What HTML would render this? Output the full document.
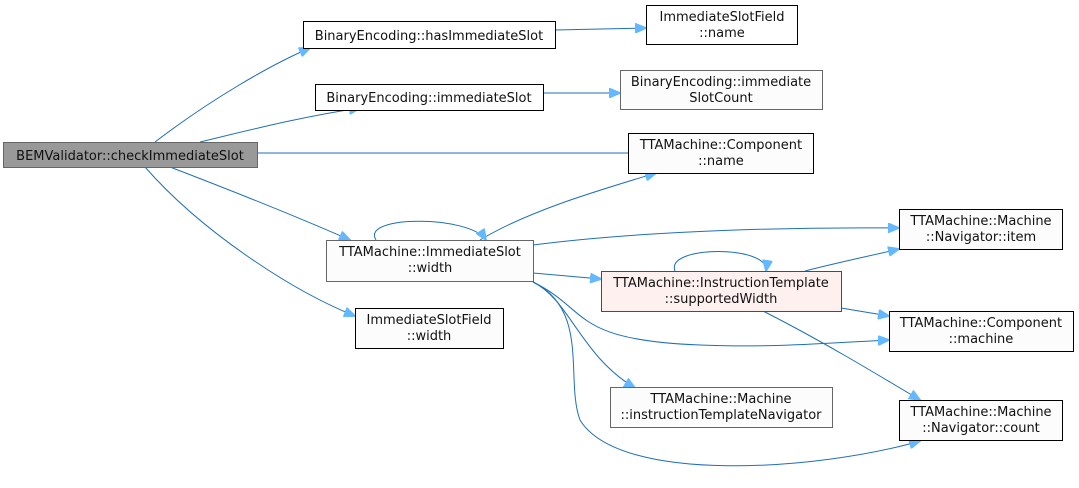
<!DOCTYPE html>
<html><head><meta charset="utf-8"><style>
html,body{margin:0;padding:0;background:#fff;}
svg text{font-family:"DejaVu Sans","Liberation Sans",sans-serif;font-size:13px;fill:#111;}
</style></head><body>
<svg width="1079" height="483" viewBox="0 0 1079 483" xmlns="http://www.w3.org/2000/svg">
<defs>
<marker id="a" markerWidth="12" markerHeight="10" refX="11" refY="5" orient="auto" markerUnits="userSpaceOnUse">
<path d="M0,0 L12,5 L0,10 Z" fill="#63b8ff" stroke="#63b8ff"/>
</marker>
</defs>
<g fill="none" stroke="#1f6fb8" stroke-width="1" marker-end="url(#a)">
<path d="M155,142 C210,100 270,65 310,48"/>
<path d="M200,142 C250,130 300,117 360,108"/>
<path d="M257,153 L639,153"/>
<path d="M170,167 C230,190 300,218 350,240"/>
<path d="M145,167 C200,230 290,290 355,316"/>
<path d="M555,30 L646,28"/>
<path d="M543,93 L620,93"/>
<path d="M480,240 C530,210 600,190 656,173"/>
<path d="M376,240 C360,215 470,215 486,240"/>
<path d="M533,245 C650,230 800,227 899,228"/>
<path d="M533,273 L601,279"/>
<path d="M533,282 C590,310 570,340 700,345 C770,348 830,343 889,340"/>
<path d="M533,282 C570,300 580,355 635,388"/>
<path d="M533,282 C590,310 565,380 580,420 C620,485 820,470 920,441"/>
<path d="M675,271 C665,245 770,245 766,271"/>
<path d="M805,271 C840,262 865,257 899,249"/>
<path d="M841,308 L889,316"/>
<path d="M763,311 C820,340 870,370 920,400"/>
</g>
<g stroke-width="1">
<rect x="3.5" y="142.5" width="254" height="25" fill="#999999" stroke="#666"/>
<rect x="303.5" y="21.5" width="252" height="27" fill="#fff" stroke="#000"/>
<rect x="646.5" y="5.5" width="151" height="39" fill="#fff" stroke="#000"/>
<rect x="315.5" y="84.5" width="228" height="26" fill="#fff" stroke="#000"/>
<rect x="620.5" y="70.5" width="202" height="39" fill="#fbfcfb" stroke="#666"/>
<rect x="628.5" y="133.5" width="185" height="40" fill="#fbfcfb" stroke="#000"/>
<rect x="326.5" y="240.5" width="207" height="41" fill="#fbfcfb" stroke="#666"/>
<rect x="355.5" y="308.5" width="148" height="40" fill="#fbfcfb" stroke="#000"/>
<rect x="601.5" y="271.5" width="240" height="40" fill="#fff0f0" stroke="#ff0000"/>
<rect x="899.5" y="209.5" width="163" height="40" fill="#fbfcfb" stroke="#000"/>
<rect x="889.5" y="311.5" width="184" height="40" fill="#fbfcfb" stroke="#000"/>
<rect x="610.5" y="387.5" width="222" height="40" fill="#fbfcfb" stroke="#666"/>
<rect x="899.5" y="400.5" width="163" height="40" fill="#fbfcfb" stroke="#000"/>
</g>
<g text-anchor="middle">
<text x="130" y="160">BEMValidator::checkImmediateSlot</text>
<text x="429" y="40">BinaryEncoding::hasImmediateSlot</text>
<text x="722" y="21">ImmediateSlotField</text><text x="722" y="37">::name</text>
<text x="429" y="102">BinaryEncoding::immediateSlot</text>
<text x="721" y="86">BinaryEncoding::immediate</text><text x="721" y="102">SlotCount</text>
<text x="721" y="149">TTAMachine::Component</text><text x="721" y="165">::name</text>
<text x="430" y="256">TTAMachine::ImmediateSlot</text><text x="430" y="272">::width</text>
<text x="429" y="324">ImmediateSlotField</text><text x="429" y="340">::width</text>
<text x="721" y="287">TTAMachine::InstructionTemplate</text><text x="721" y="303">::supportedWidth</text>
<text x="981" y="225">TTAMachine::Machine</text><text x="981" y="241">::Navigator::item</text>
<text x="981" y="327">TTAMachine::Component</text><text x="981" y="343">::machine</text>
<text x="721" y="403">TTAMachine::Machine</text><text x="721" y="419">::instructionTemplateNavigator</text>
<text x="981" y="416">TTAMachine::Machine</text><text x="981" y="432">::Navigator::count</text>
</g>
</svg>
</body></html>
